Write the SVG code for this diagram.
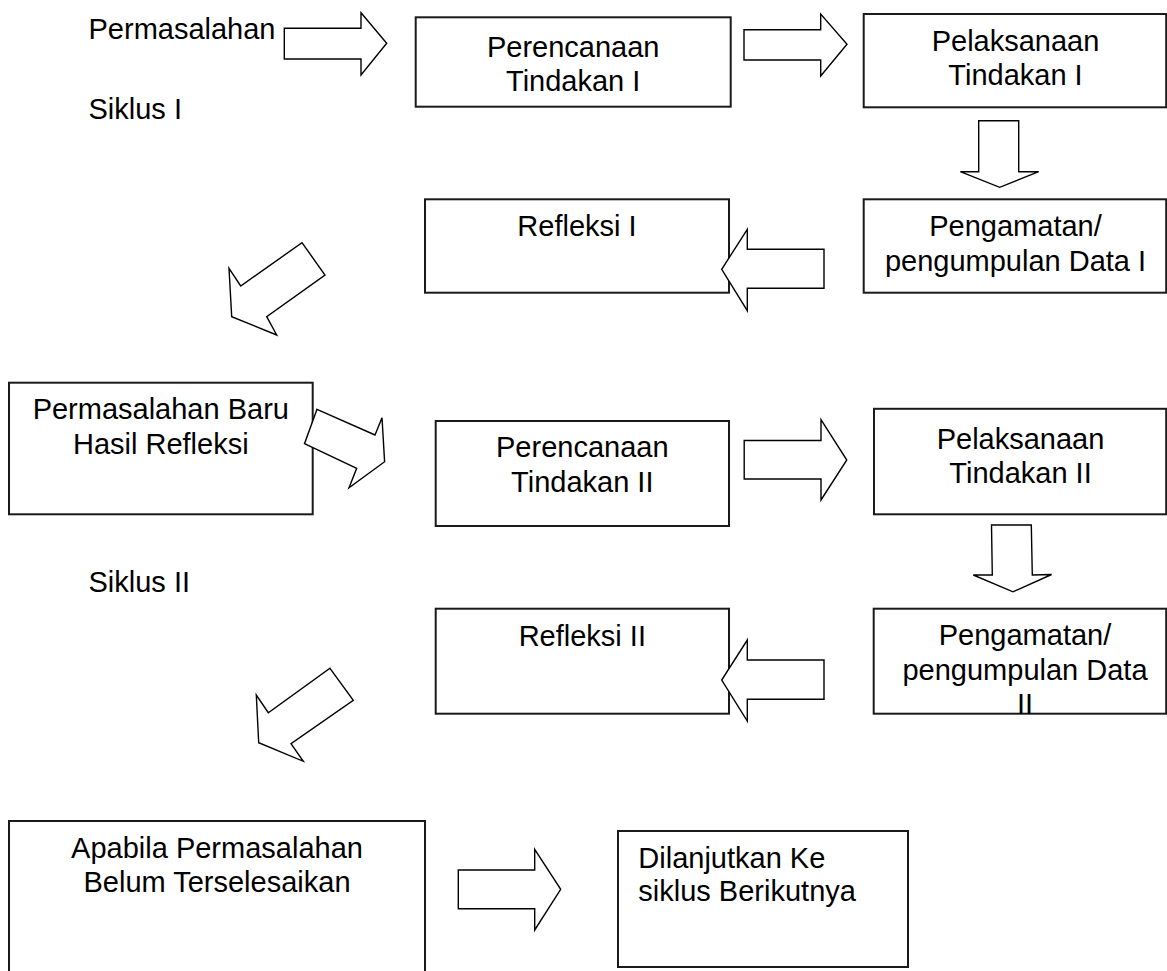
<svg xmlns="http://www.w3.org/2000/svg" width="1167" height="971" viewBox="0 0 1167 971">
<style>
.box{fill:#fff;stroke:#1a1a1a;stroke-width:2}
.arr{fill:#fff;stroke:#000;stroke-width:1.4;stroke-linejoin:miter}
text{font-family:"Liberation Sans",Arial,sans-serif;font-size:29px;fill:#000}
.c{text-anchor:middle}
</style>
<rect width="1167" height="971" fill="#fff"/>
<g id="label-permasalahan"><text x="88.5" y="39">Permasalahan</text></g>
<g id="label-siklus1"><text x="88.5" y="119">Siklus I</text></g>
<g id="label-siklus2"><text x="88.5" y="592">Siklus II</text></g>

<g id="perencanaan1">
<rect class="box" x="415.7" y="17.3" width="315" height="89.4"/>
<text class="c" x="573.2" y="56.7">Perencanaan</text>
<text class="c" x="573.2" y="90.7">Tindakan I</text>
</g>
<g id="pelaksanaan1">
<rect class="box" x="863.7" y="14" width="302.5" height="93.3"/>
<text class="c" x="1015.5" y="50.7">Pelaksanaan</text>
<text class="c" x="1015.5" y="85">Tindakan I</text>
</g>
<g id="pengamatan1">
<rect class="box" x="863.7" y="199.3" width="302.5" height="93.4"/>
<text class="c" x="1015.5" y="236">Pengamatan/</text>
<text class="c" x="1015.5" y="270.7">pengumpulan Data I</text>
</g>
<g id="refleksi1">
<rect class="box" x="425" y="199.3" width="304" height="93.4"/>
<text class="c" x="577" y="236">Refleksi I</text>
</g>
<g id="permasalahan-baru">
<rect class="box" x="9" y="382.7" width="303.7" height="131.6"/>
<text class="c" x="160.8" y="419">Permasalahan Baru</text>
<text class="c" x="160.8" y="454">Hasil Refleksi</text>
</g>
<g id="perencanaan2">
<rect class="box" x="435.7" y="421" width="293.3" height="105"/>
<text class="c" x="582.3" y="457">Perencanaan</text>
<text class="c" x="582.3" y="491.5">Tindakan II</text>
</g>
<g id="pelaksanaan2">
<rect class="box" x="874" y="408.8" width="292.2" height="105.5"/>
<text class="c" x="1020.5" y="449">Pelaksanaan</text>
<text class="c" x="1020.5" y="483.3">Tindakan II</text>
</g>
<g id="pengamatan2">
<rect class="box" x="873.7" y="608.7" width="292.5" height="105"/>
<text class="c" x="1025" y="645.3">Pengamatan/</text>
<text class="c" x="1025" y="679.7">pengumpulan Data</text>
<text class="c" x="1025" y="714">II</text>
</g>
<g id="refleksi2">
<rect class="box" x="435.7" y="608.7" width="293.3" height="105"/>
<text class="c" x="582.3" y="646">Refleksi II</text>
</g>
<g id="apabila">
<rect class="box" x="9" y="821" width="416" height="200"/>
<text class="c" x="217" y="857.7">Apabila Permasalahan</text>
<text class="c" x="217" y="892">Belum Terselesaikan</text>
</g>
<g id="dilanjutkan">
<rect class="box" x="618" y="831" width="290" height="136"/>
<text x="638.3" y="867.7">Dilanjutkan Ke</text>
<text x="638.3" y="901">siklus Berikutnya</text>
</g>

<g id="connectors">
<polygon class="arr" points="284.3,28.3 361,28.3 361,12.7 386.7,43.3 361,75 361,59 284.3,59"/>
<polygon class="arr" points="744,29.8 820.7,29.8 820.7,14 847,44.3 820.7,76 820.7,60 744,60"/>
<polygon class="arr" points="978.7,120.7 1018.7,120.7 1018.7,171.7 1038.7,171.7 999.7,187.3 960.3,171.7 978.7,171.7"/>
<polygon class="arr" points="824,249.3 747.3,249.3 747.3,229.3 721.7,269.3 747.3,310.7 747.3,288.3 824,288.3"/>
<polygon class="arr" points="302,242.7 325,275 266.7,316.7 276.7,335 231.7,316.7 229,268.3 240.7,286"/>
<polygon class="arr" points="317,409.3 375,435 382,417.8 384.6,461.7 349,487.7 356.7,468.3 304.5,443.7"/>
<polygon class="arr" points="744.2,440.5 821,440.5 821,419.7 846.8,460 821,500 821,479 744.2,479"/>
<polygon class="arr" points="991.5,525 1031.3,525 1032.3,575 1051.6,574.5 1013,591.8 973.3,575 992.3,575"/>
<polygon class="arr" points="824,660 747.3,660 747.3,640 721.7,680 747.3,721 747.3,699.3 824,699.3"/>
<polygon class="arr" points="330,668.3 353.3,700.3 291,743.7 303.3,761.3 258.7,742.7 256.3,695 268.3,712.7"/>
<polygon class="arr" points="458.3,870 534.7,870 534.7,849.3 560.7,889.3 534.7,930 534.7,908.7 458.3,908.7"/>
</g>
</svg>
